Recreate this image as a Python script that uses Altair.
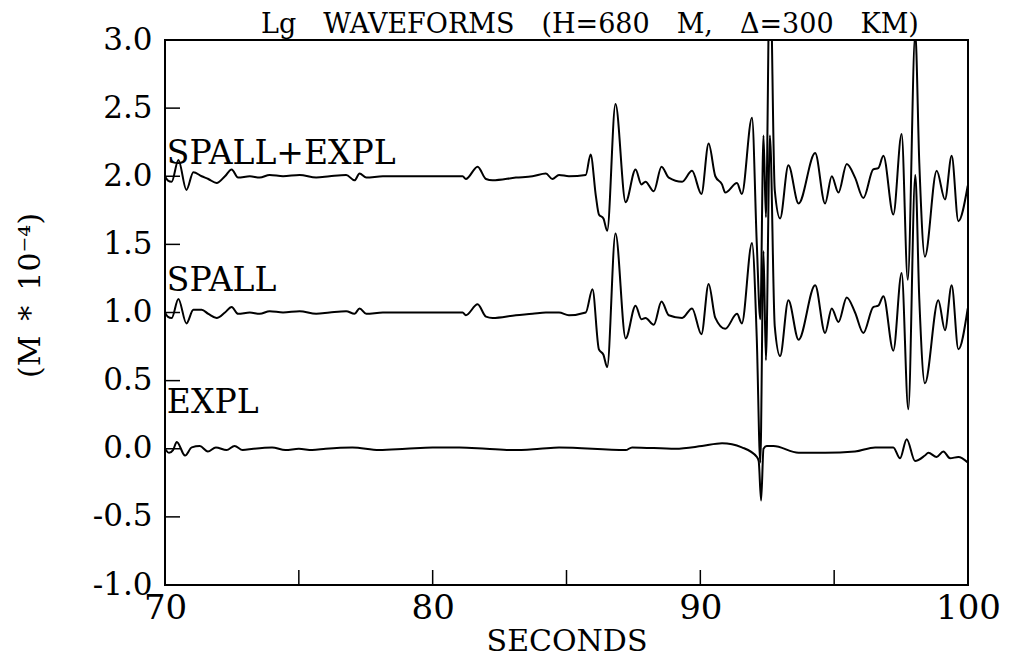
import altair as alt
import pandas as pd

# ---- data (time in seconds, amplitude in M*1e-4) ----
spall_expl_t = [70.0, 70.1, 70.25, 70.5, 70.8, 71.06, 71.37, 71.62, 71.93, 72.24, 72.49, 72.73,
                73.17, 73.54, 73.91, 74.41, 75.03, 75.65, 76.15, 76.77, 77.08, 77.27, 77.52, 78.14,
                79.38, 80.62, 81.12, 81.24, 81.68, 81.99, 82.24, 83.11, 83.73, 84.23, 84.47, 84.72,
                85.09, 85.72, 85.90, 86.10, 86.21, 86.38, 86.52, 86.83, 87.21, 87.58, 87.80, 87.95,
                88.26, 88.55, 88.82, 89.32, 89.69, 90.04, 90.31, 90.56, 90.81, 90.93, 91.37, 91.55,
                91.93, 92.11, 92.24, 92.36, 92.45, 92.60, 92.78, 92.98, 93.29, 93.67, 94.29, 94.66,
                94.91, 95.16, 95.47, 95.78, 96.09, 96.46, 96.65, 96.84, 97.21, 97.52, 97.75, 98.03,
                98.18, 98.39, 98.83, 99.14, 99.39, 99.64, 99.99]
spall_expl_v = [2.0, 1.97, 1.96, 2.12, 1.90, 2.03, 2.0, 1.98, 1.95, 2.0, 2.05, 1.99,
                2.0, 1.99, 2.01, 2.0, 2.01, 1.99, 2.0, 2.01, 1.97, 2.02, 1.99, 2.0,
                2.0, 2.0, 2.0, 1.98, 2.07, 1.98, 1.97, 1.99, 2.0, 2.02, 1.98, 2.01,
                2.0, 2.01, 2.16, 1.85, 1.72, 1.69, 1.60, 2.53, 1.81, 2.05, 1.94, 1.96,
                1.89, 2.07, 1.99, 1.96, 2.04, 1.87, 2.24, 2.0, 1.94, 1.88, 1.95, 1.87,
                2.43, 1.5, 0.95, 2.3, 1.7, 3.6, 1.9, 1.69, 2.08, 1.80, 2.17, 1.80,
                2.0, 1.88, 2.09, 1.99, 1.84, 2.05, 2.06, 2.15, 1.72, 2.31, 1.24, 3.05,
                2.1, 1.41, 2.04, 1.83, 2.15, 1.67, 1.93]

spall_t = [70.0, 70.1, 70.25, 70.5, 70.8, 71.06, 71.37, 71.62, 71.93, 72.24, 72.49, 72.73,
           73.17, 73.54, 73.91, 74.41, 75.03, 75.65, 76.15, 76.77, 77.08, 77.27, 77.52, 78.14,
           79.38, 80.62, 81.12, 81.24, 81.68, 81.99, 82.24, 83.11, 83.73, 84.23, 84.72, 85.09,
           85.72, 85.97, 86.21, 86.38, 86.52, 86.83, 87.21, 87.58, 87.80, 87.95, 88.26, 88.55,
           88.82, 89.32, 89.69, 90.04, 90.31, 90.56, 90.93, 91.37, 91.55, 91.93, 92.11, 92.24,
           92.36, 92.45, 92.60, 92.78, 92.98, 93.29, 93.67, 94.29, 94.66, 94.91, 95.16, 95.47,
           95.78, 96.09, 96.46, 96.65, 96.84, 97.21, 97.52, 97.77, 98.03, 98.18, 98.39, 98.89,
           99.14, 99.39, 99.64, 99.99]
spall_v = [1.0, 0.97, 0.96, 1.10, 0.92, 1.02, 1.02, 0.99, 0.96, 1.0, 1.04, 0.99,
           1.0, 0.99, 1.01, 1.0, 1.01, 0.99, 1.0, 1.01, 0.99, 1.03, 0.99, 1.0,
           1.0, 1.0, 1.0, 0.98, 1.06, 0.97, 0.96, 0.98, 0.99, 1.0, 1.0, 0.98,
           1.0, 1.17, 0.73, 0.69, 0.60, 1.58, 0.81, 1.05, 0.95, 0.96, 0.91, 1.08,
           0.98, 0.96, 1.03, 0.84, 1.21, 0.96, 0.88, 0.99, 0.92, 1.51, 0.8, -0.1,
           1.45, 0.65, 2.3, 0.9, 0.68, 1.09, 0.80, 1.20, 0.85, 1.03, 0.93, 1.11,
           1.0, 0.85, 1.04, 1.05, 1.12, 0.72, 1.29, 0.29, 2.01, 1.1, 0.48, 1.09,
           0.87, 1.2, 0.73, 1.03]

expl_t = [70.0, 70.15, 70.3, 70.44, 70.75, 71.0, 71.3, 71.6, 71.9, 72.3, 72.6, 72.9,
          73.3, 74.0, 74.5, 75.0, 75.5, 76.0, 77.0, 78.0, 79.0, 80.0, 81.0, 82.0,
          83.0, 84.0, 84.72, 87.21, 87.45, 89.07, 90.06, 90.81, 91.55, 92.11, 92.18, 92.27,
          92.36, 92.48, 92.73, 93.67, 94.66, 95.78, 96.53, 96.9, 97.21, 97.46, 97.71, 98.02,
          98.39, 98.52, 98.83, 99.08, 99.33, 99.64, 99.99]
expl_v = [0.0, -0.03, -0.01, 0.05, -0.05, 0.01, 0.02, -0.02, 0.01, -0.01, 0.02, -0.01,
          0.0, 0.01, -0.01, 0.0, -0.01, 0.0, 0.01, -0.01, 0.0, 0.01, 0.01, 0.0,
          -0.01, 0.0, 0.01, -0.01, 0.01, 0.0, 0.02, 0.04, 0.01, -0.06, -0.09, -0.38,
          0.0, 0.02, 0.02, -0.03, -0.03, -0.02, 0.01, 0.01, 0.01, -0.07, 0.07, -0.09,
          -0.05, -0.03, -0.06, -0.02, -0.07, -0.06, -0.1]

label_names = ["SPALL+EXPL", "SPALL", "EXPL"]
label_t = [70.07, 70.07, 70.07]
label_v = [2.09, 1.16, 0.26]

GAP = "\u2003"
title_text = GAP.join(["Lg", "WAVEFORMS", "(H=680", "M,", "\u0394=300", "KM)"])
y_title = "(M\u2002*\u200210\u207b\u2074)"

x_label_values = [70, 80, 90, 100]
x_tick_values = [75, 80, 85, 90, 95]
y_label_values = [-1.0, -0.5, 0.0, 0.5, 1.0, 1.5, 2.0, 2.5, 3.0]
y_tick_values = [-0.5, 0.0, 0.5, 1.0, 1.5, 2.0, 2.5]

# ---- build tables ----
rows = []
for name, ts, vs in [("SPALL+EXPL", spall_expl_t, spall_expl_v),
                     ("SPALL", spall_t, spall_v),
                     ("EXPL", expl_t, expl_v)]:
    for t, v in zip(ts, vs):
        rows.append({"trace": name, "t": t, "v": v})
df = pd.DataFrame(rows)
lab_df = pd.DataFrame({"name": label_names, "t": label_t, "v": label_v})
xt_df = pd.DataFrame({"t": x_tick_values})
yt_df = pd.DataFrame({"v": y_tick_values})
title_df = pd.DataFrame({"title": [title_text]})

FONT = "DejaVu Serif"
W, H = 803, 545

x_scale = alt.Scale(domain=[70, 100], nice=False, zero=False)
y_scale = alt.Scale(domain=[-1, 3], nice=False, zero=False)

x_axis = alt.Axis(
    values=x_label_values, tickSize=0, domain=False, grid=False,
    labelFont=FONT, labelFontSize=34, labelPadding=6, labelColor="black",
    labelFlush=False,
    title="SECONDS", titleFont=FONT, titleFontSize=30, titleFontWeight="normal",
    titleColor="black", titleY=65, titleBaseline="alphabetic")
y_axis = alt.Axis(
    values=y_label_values, tickSize=0, domain=False, grid=False,
    labelExpr="replace(format(datum.value, '.1f'), '\u2212', '-')",
    labelFont=FONT, labelFontSize=31, labelPadding=13, labelColor="black",
    labelFlush=False,
    title=y_title, titleFont=FONT, titleFontSize=30,
    titleFontWeight="normal", titleColor="black",
    titleX=-135, titleY=255, titleAngle=270, titleAlign="center",
    titleBaseline="middle")

X = lambda f: alt.X(f, scale=x_scale, axis=x_axis)
Y = lambda f: alt.Y(f, scale=y_scale, axis=y_axis)

frame = alt.Chart(title_df).mark_rect(
    fill=None, filled=False, stroke="black", strokeWidth=2
).encode(x=alt.value(0), x2=alt.value(W), y=alt.value(0), y2=alt.value(H))

lines = alt.Chart(df).mark_line(
    color="black", strokeWidth=2.0, interpolate="monotone", clip=True
).encode(x=X("t:Q"), y=Y("v:Q"), detail="trace:N")

labels = alt.Chart(lab_df).mark_text(
    align="left", baseline="alphabetic", font=FONT, fontSize=33, color="black"
).encode(x=X("t:Q"), y=Y("v:Q"), text="name:N")

yticks = alt.Chart(yt_df).mark_rule(color="black", strokeWidth=1.5).encode(
    y=Y("v:Q"), x=alt.value(0), x2=alt.value(15))

xticks = alt.Chart(xt_df).mark_rule(color="black", strokeWidth=1.5).encode(
    x=X("t:Q"), y=alt.value(H), y2=alt.value(H - 15))

title = alt.Chart(title_df).mark_text(
    align="center", baseline="alphabetic", font=FONT, fontSize=27, color="black"
).encode(x=alt.value(425), y=alt.value(-7), text="title:N")

chart = alt.layer(lines, labels, yticks, xticks, frame, title).properties(
    width=W, height=H,
    autosize=alt.AutoSizeParams(type="none"),
    padding={"left": 157, "top": 32, "right": 33, "bottom": 71},
).configure_view(stroke=None).configure(background="white")

chart.save("out.html", embed_options={"renderer": "svg", "actions": False})
